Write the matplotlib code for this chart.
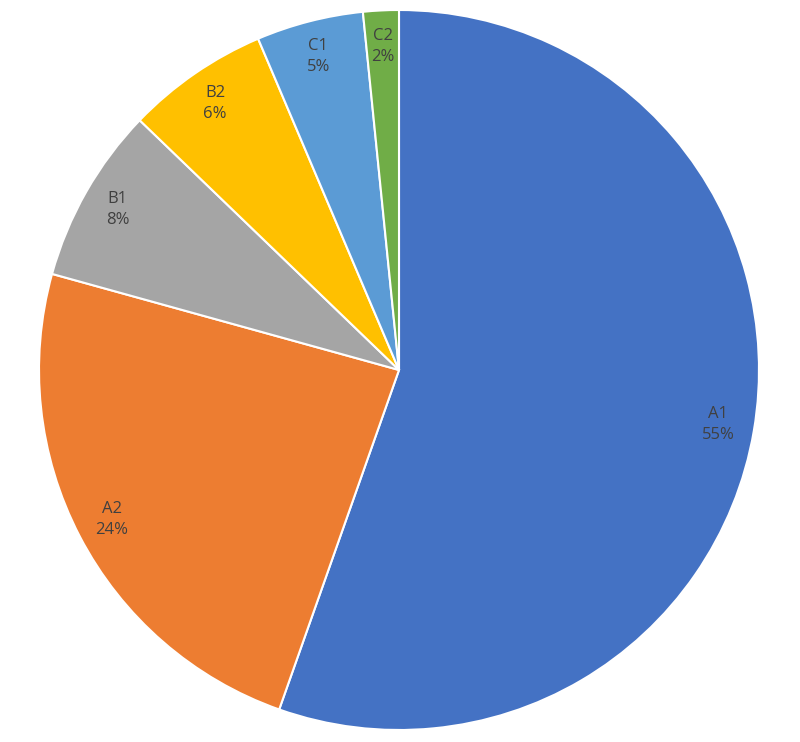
import matplotlib.pyplot as plt

# data
names = ['A1', 'A2', 'B1', 'B2', 'C1', 'C2']
values = [55.4, 23.9, 7.9, 6.4, 4.8, 1.6]
colors = ['#4472C4', '#ED7D31', '#A5A5A5', '#FFC000', '#5B9BD5', '#70AD47']

plt.rcParams['font.family'] = ['Open Sans', 'DejaVu Sans']

total = sum(values)
labels = [f"{n}\n{v / total * 100:.0f}%" for n, v in zip(names, values)]

fig = plt.figure(figsize=(8, 7.42), dpi=100)
ax = fig.add_axes([0, 0, 1, 1])

wedges, texts = ax.pie(values, labels=labels, colors=colors, startangle=90,
                       counterclock=False, labeldistance=0.9,
                       wedgeprops=dict(edgecolor='white', linewidth=1.5),
                       textprops=dict(fontsize=12, color='#404040'))
for t in texts:
    t.set_ha('center')
    t.set_va('center')
    t.set_linespacing(1.4)

# pie centre at (399, 370) px from top-left, radius 360 px
r = 360.0
ax.set_xlim(-399 / r, (800 - 399) / r)
ax.set_ylim(-(742 - 370) / r, 370 / r)
ax.axis('off')

fig.savefig('out.png', dpi=100, facecolor='white')
